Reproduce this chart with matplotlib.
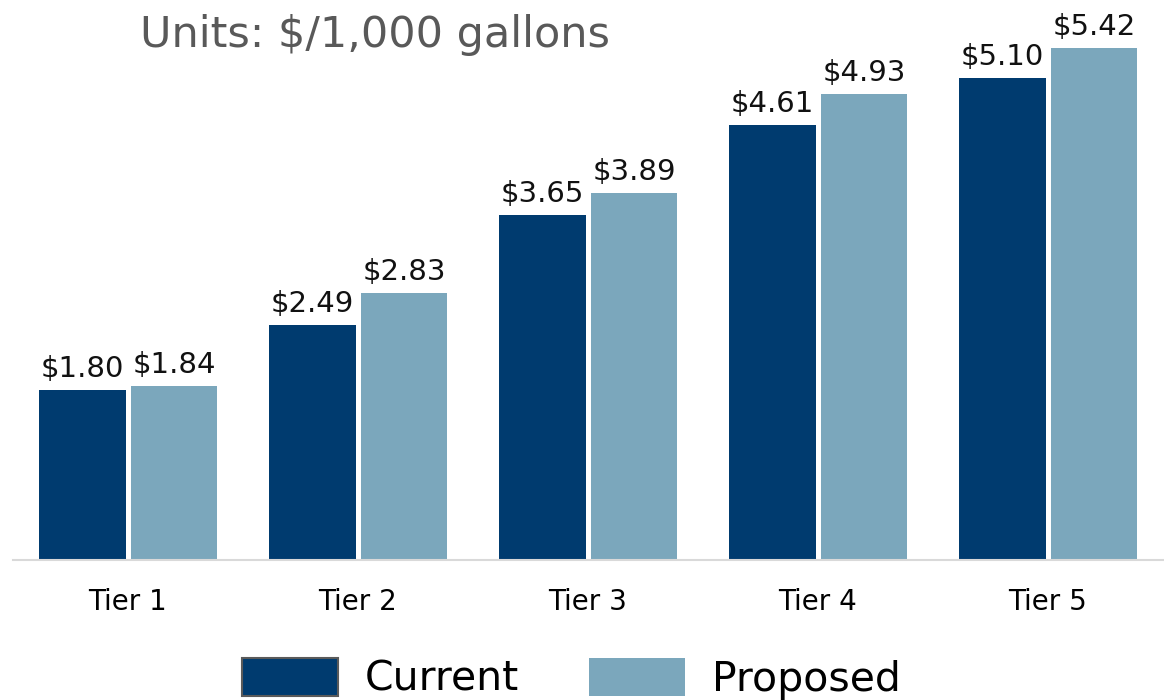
import numpy as np
import matplotlib.pyplot as plt
from matplotlib.patches import Patch

plt.rcParams['font.family'] = ['DejaVu Sans']

tiers = ['Tier 1', 'Tier 2', 'Tier 3', 'Tier 4', 'Tier 5']
current = [1.80, 2.49, 3.65, 4.61, 5.10]
proposed = [1.84, 2.83, 3.89, 4.93, 5.42]

c_cur = '#003b6f'
c_prop = '#7ba7bc'

fig = plt.figure(figsize=(11.64, 7), dpi=100)
ax = fig.add_axes([13 / 1164, 140 / 700, 1150 / 1164, 560 / 700])

x = np.arange(len(tiers))
w = 0.375
b1 = ax.bar(x - 0.198, current, w, color=c_cur)
b2 = ax.bar(x + 0.2, proposed, w, color=c_prop)

for bars, vals in [(b1, current), (b2, proposed)]:
    for r, v in zip(bars, vals):
        ax.annotate('${:.2f}'.format(v), (r.get_x() + r.get_width() / 2, v),
                    xytext=(0, 5), textcoords='offset points',
                    ha='center', va='bottom', fontsize=21, color='#111111',
                    annotation_clip=False)

ax.set_xlim(-0.5, 4.5)
ax.set_ylim(0, 5.93)
ax.set_xticks(x)
ax.set_xticklabels(tiers, fontsize=20)
ax.tick_params(axis='x', length=0, pad=20)
ax.set_yticks([])
for s in ['top', 'right', 'left']:
    ax.spines[s].set_visible(False)
ax.spines['bottom'].set_color('#d9d9d9')
ax.spines['bottom'].set_linewidth(1.5)

fig.text(140 / 1164, 1 - 35 / 700, 'Units: $/1,000 gallons', fontsize=31,
         color='#595959', va='center', ha='left')

handles = [Patch(facecolor=c_cur, edgecolor='#5a5a5a', linewidth=1.5),
           Patch(facecolor=c_prop)]
fig.legend(handles, ['Current', 'Proposed'], loc='lower center',
           bbox_to_anchor=(0.491, -0.052), ncol=2, frameon=False, fontsize=29.5,
           handlelength=2.34, handleheight=1.05, columnspacing=1.7,
           handletextpad=0.66)

fig.savefig('out.png', dpi=100)
